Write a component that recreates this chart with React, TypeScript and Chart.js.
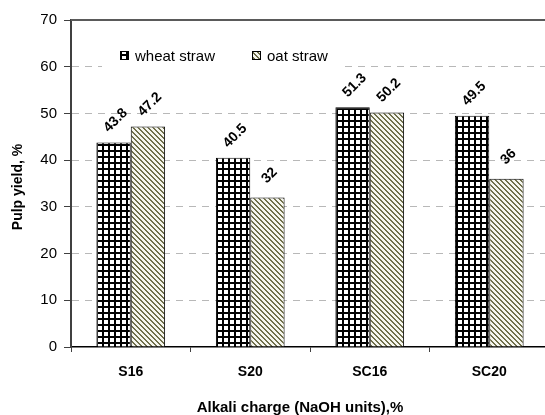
import React, { useEffect, useRef } from 'react';
import { Chart, registerables } from 'chart.js';

Chart.register(...registerables);

const categories = ['S16', 'S20', 'SC16', 'SC20'];
const wheatStraw = [43.8, 40.5, 51.3, 49.5];
const oatStraw = [47.2, 32, 50.2, 36];
const seriesNames = ['wheat straw', 'oat straw'];
const yTicks = [0, 10, 20, 30, 40, 50, 60, 70];
const xTitle = 'Alkali charge (NaOH units),%';
const yTitle = 'Pulp yield, %';

const FONT = "'Liberation Sans', Arial, Helvetica, sans-serif";
const W = 560;
const H = 415;

function makeGridPattern(ctx: CanvasRenderingContext2D): CanvasPattern | string {
  const p = 6;
  const c = document.createElement('canvas');
  c.width = p;
  c.height = p;
  const g = c.getContext('2d')!;
  const img = g.createImageData(p, p);
  for (let y = 0; y < p; y++) {
    for (let x = 0; x < p; x++) {
      const i = (y * p + x) * 4;
      const dark = x < 2 || y < 2;
      const v = dark ? 0 : 255;
      img.data[i] = v;
      img.data[i + 1] = v;
      img.data[i + 2] = v;
      img.data[i + 3] = 255;
    }
  }
  g.putImageData(img, 0, 0);
  return ctx.createPattern(c, 'repeat') || '#000';
}

function makeStripePattern(ctx: CanvasRenderingContext2D): CanvasPattern | string {
  const p = 5;
  const c = document.createElement('canvas');
  c.width = p;
  c.height = p;
  const g = c.getContext('2d')!;
  const img = g.createImageData(p, p);
  for (let y = 0; y < p; y++) {
    for (let x = 0; x < p; x++) {
      const i = (y * p + x) * 4;
      const dark = (((x - y) % p) + p) % p < 2;
      img.data[i] = dark ? 112 : 246;
      img.data[i + 1] = dark ? 112 : 246;
      img.data[i + 2] = dark ? 76 : 238;
      img.data[i + 3] = 255;
    }
  }
  g.putImageData(img, 0, 0);
  return ctx.createPattern(c, 'repeat') || '#777';
}

export default function App() {
  const ref = useRef<HTMLCanvasElement | null>(null);

  useEffect(() => {
    const canvas = ref.current;
    if (!canvas) return;
    const ctx = canvas.getContext('2d')!;
    const gridPat = makeGridPattern(ctx);
    const stripePat = makeStripePattern(ctx);
    const patterns = [gridPat, stripePat];

    const decorations = {
      id: 'decorations',
      afterDatasetsDraw(chart: any) {
        const c = chart.ctx as CanvasRenderingContext2D;
        const area = chart.chartArea;
        c.save();
        // top border line
        c.strokeStyle = '#5a5a5a';
        c.lineWidth = 2;
        c.beginPath();
        c.moveTo(area.left, area.top);
        c.lineTo(area.right, area.top);
        c.stroke();

        // legend
        c.fillStyle = '#ffffff';
        c.fillRect(102, 36, 243, 34);
        const legendItems = [
          { x: 120, text: seriesNames[0], pat: patterns[0] },
          { x: 252, text: seriesNames[1], pat: patterns[1] },
        ];
        c.font = `15px ${FONT}`;
        c.textBaseline = 'alphabetic';
        c.textAlign = 'left';
        legendItems.forEach((it) => {
          c.fillStyle = it.pat as any;
          c.fillRect(it.x, 51, 9, 9);
          c.strokeStyle = '#000';
          c.lineWidth = 1;
          c.strokeRect(it.x + 0.5, 51.5, 8, 8);
          c.fillStyle = '#000';
          c.fillText(it.text, it.x + 15, 61);
        });

        // data labels
        c.font = `bold 14px ${FONT}`;
        c.textAlign = 'center';
        c.textBaseline = 'middle';
        c.fillStyle = '#000';
        chart.data.datasets.forEach((ds: any, di: number) => {
          const meta = chart.getDatasetMeta(di);
          meta.data.forEach((el: any, i: number) => {
            c.save();
            c.translate(el.x + 2, el.y - 22);
            c.rotate(-Math.PI / 4);
            c.fillText(String(ds.data[i]), 0, 0);
            c.restore();
          });
        });

        // axis titles
        c.font = `bold 15px ${FONT}`;
        c.textAlign = 'center';
        c.textBaseline = 'middle';
        c.fillText(xTitle, 300, 408);
        c.save();
        c.translate(18, 187);
        c.rotate(-Math.PI / 2);
        c.font = `bold 14px ${FONT}`;
        c.fillText(yTitle, 0, 0);
        c.restore();
        c.restore();
      },
    };

    const chart = new Chart(canvas, {
      type: 'bar',
      data: {
        labels: categories,
        datasets: [
          {
            label: seriesNames[0],
            data: wheatStraw,
            backgroundColor: gridPat as any,
            borderColor: '#000',
            borderWidth: 1,
            categoryPercentage: 0.575,
            barPercentage: 1,
          },
          {
            label: seriesNames[1],
            data: oatStraw,
            backgroundColor: stripePat as any,
            borderColor: '#000',
            borderWidth: 1,
            categoryPercentage: 0.575,
            barPercentage: 1,
          },
        ],
      },
      options: {
        responsive: false,
        animation: false,
        devicePixelRatio: 1,
        layout: { padding: { left: 0, top: 20, right: W - 549, bottom: 0 } },
        plugins: {
          legend: { display: false },
          tooltip: { enabled: false },
          title: { display: false },
        },
        scales: {
          x: {
            type: 'category',
            offset: true,
            grid: {
              display: true,
              offset: true,
              drawOnChartArea: false,
              drawTicks: true,
              tickLength: 5,
              tickColor: '#404040',
              tickWidth: 1,
            },
            border: { display: true, color: '#000', width: 1.5 },
            ticks: {
              color: '#000',
              font: { family: FONT, size: 14, weight: 'bold' },
              padding: 12,
              maxRotation: 0,
            },
            afterFit: (s: any) => {
              s.height = H - 347;
            },
          } as any,
          y: {
            min: 0,
            max: 70,
            afterBuildTicks: (s: any) => {
              s.ticks = yTicks.map((v) => ({ value: v }));
            },
            grid: {
              color: (c: any) =>
                c.tick && (c.tick.value === 0 || c.tick.value === 70) ? 'rgba(0,0,0,0)' : '#b8b8b8',
              lineWidth: 1,
              tickLength: 7,
              tickColor: '#404040',
              tickWidth: 1,
              tickBorderDash: [],
            },
            border: { display: true, color: '#404040', width: 2, dash: [7, 6] },
            ticks: {
              color: '#000',
              font: { family: FONT, size: 15 },
              padding: 7,
            },
            afterFit: (s: any) => {
              s.width = 71;
            },
          } as any,
        },
      },
      plugins: [decorations],
    });

    return () => chart.destroy();
  }, []);

  return (
    <div
      style={{
        position: 'fixed',
        left: 0,
        top: 0,
        width: 545,
        height: 415,
        overflow: 'hidden',
        background: '#fff',
      }}
    >
      <canvas ref={ref} width={W} height={H} style={{ display: 'block', width: W, height: H }} />
    </div>
  );
}
